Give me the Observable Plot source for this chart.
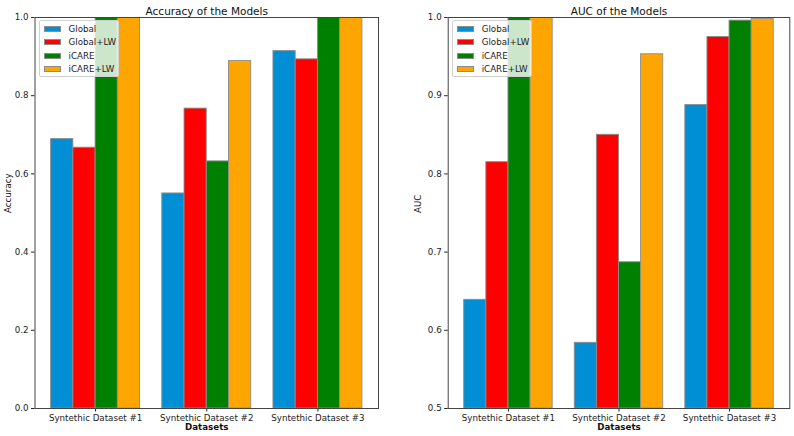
<!DOCTYPE html>
<html><head><meta charset="utf-8">
<script src="https://cdn.jsdelivr.net/npm/d3@7"></script>
<script src="https://cdn.jsdelivr.net/npm/@observablehq/plot@0.6"></script>
<style>
body{margin:0;background:#fff;font-family:"DejaVu Sans",sans-serif}
#wrap{display:flex;width:794px;height:436px}
.panel{position:relative;width:397px;height:436px}
.legend{position:absolute;top:19.5px;width:80px;height:57px;box-sizing:border-box;background:rgba(255,255,255,0.8);border:1px solid #d0d0d0;border-radius:2px;padding-top:2px;font-size:8.7px;color:#222}
.row{height:13.3px;display:flex;align-items:center}
.patch{width:17.5px;height:6px;box-sizing:border-box;border:0.9px solid #8c8c8c;margin-left:3.5px;margin-right:7.5px}
</style></head><body><div id="wrap"></div>
<script>
const datasets = ["Syntethic Dataset #1", "Syntethic Dataset #2", "Syntethic Dataset #3"];
const models = ["Global", "Global+LW", "iCARE", "iCARE+LW"];
const colors = ["#008fd5", "#ff0000", "#008000", "#ffa500"];

const accGlobal   = [0.689, 0.550, 0.914];
const accGlobalLW = [0.667, 0.767, 0.893];
const accICARE    = [1.000, 0.632, 1.000];
const accICARELW  = [1.000, 0.889, 1.000];

const aucGlobal   = [0.639, 0.584, 0.888];
const aucGlobalLW = [0.815, 0.850, 0.975];
const aucICARE    = [1.000, 0.687, 0.996];
const aucICARELW  = [1.000, 0.953, 0.998];

const accTicks = [0.0, 0.2, 0.4, 0.6, 0.8, 1.0];
const aucTicks = [0.5, 0.6, 0.7, 0.8, 0.9, 1.0];
const barWidth = 0.2;

function buildRows(series) {
  const rows = [];
  datasets.forEach((ds, d) => {
    models.forEach((m, k) => {
      const x1 = d + k * barWidth - barWidth / 2;
      rows.push({dataset: ds, model: m, value: series[k][d], x1, x2: x1 + barWidth});
    });
  });
  return rows;
}

function chart({title, ylabel, series, yDomain, yTicks, marginLeft, marginRight, ylabelDx}) {
  const rows = buildRows(series);
  const tickPos = datasets.map((_, i) => i + 1.5 * barWidth);
  const panel = document.createElement("div");
  panel.className = "panel";
  const svg = Plot.plot({
    width: 397, height: 436,
    marginTop: 17, marginBottom: 28, marginLeft, marginRight,
    style: {fontFamily: "DejaVu Sans, sans-serif", fontSize: "8.7px", color: "#222", background: "#fff", overflow: "visible"},
    x: {domain: [-0.245, 2.845], ticks: tickPos, tickFormat: t => datasets[Math.round(t - 1.5 * barWidth)], tickSize: 3.5, tickPadding: 3, label: null},
    y: {domain: yDomain, ticks: yTicks, tickFormat: d3.format(".1f"), tickSize: 3.5, tickPadding: 3, label: null},
    color: {domain: models, range: colors},
    marks: [
      Plot.rectY(rows, {x1: "x1", x2: "x2", y1: yDomain[0], y2: "value", fill: "model", stroke: "#8c8c8c", strokeWidth: 0.9, clip: true}),
      Plot.frame({stroke: "#444", strokeWidth: 1}),
      Plot.text([title], {text: d => d, frameAnchor: "top", dy: -9.5, fontSize: 10.5, fill: "#111"}),
      Plot.text(["Datasets"], {text: d => d, frameAnchor: "bottom", dy: 21.7, fontWeight: "bold", fill: "#111"}),
      Plot.text([ylabel], {text: d => d, frameAnchor: "left", dx: ylabelDx, rotate: -90, fill: "#111"})
    ]
  });
  panel.appendChild(svg);
  const legend = document.createElement("div");
  legend.className = "legend";
  legend.style.left = (marginLeft + 4.5) + "px";
  models.forEach((m, i) => {
    const row = document.createElement("div");
    row.className = "row";
    const p = document.createElement("div");
    p.className = "patch";
    p.style.background = colors[i];
    const t = document.createElement("span");
    t.textContent = m;
    row.appendChild(p); row.appendChild(t);
    legend.appendChild(row);
  });
  panel.appendChild(legend);
  return panel;
}

const wrap = document.getElementById("wrap");
wrap.appendChild(chart({
  title: "Accuracy of the Models", ylabel: "Accuracy",
  series: [accGlobal, accGlobalLW, accICARE, accICARELW],
  yDomain: [0, 1], yTicks: accTicks, marginLeft: 34.5, marginRight: 19, ylabelDx: -26.5
}));
wrap.appendChild(chart({
  title: "AUC of the Models", ylabel: "AUC",
  series: [aucGlobal, aucGlobalLW, aucICARE, aucICARELW],
  yDomain: [0.5, 1], yTicks: aucTicks, marginLeft: 50.7, marginRight: 4.7, ylabelDx: -30
}));
</script>
</body></html>
